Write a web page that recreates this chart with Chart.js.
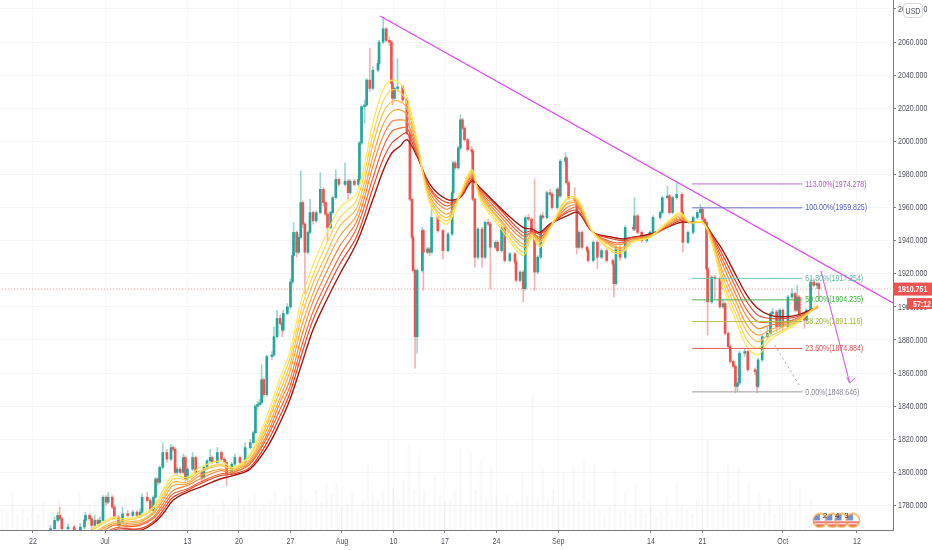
<!DOCTYPE html>
<html>
<head>
<meta charset="utf-8">
<title>Gold 4H</title>
<script src="https://cdn.jsdelivr.net/npm/chart.js@4"></script>
<style>
  html, body { margin: 0; padding: 0; background: #fff; }
  #wrap { width: 932px; height: 550px; position: relative; }
</style>
</head>
<body>
<div id="wrap"><canvas id="goldChart"></canvas></div>
<script>
// x = trading days counted from 22 Jun (weekends are not on the axis)
const xTickDays = [0, 7, 15, 20, 25, 30, 35, 40, 45, 51, 60, 65, 72.8, 80];
const xTickLabels = ['22', 'Jul', '13', '20', '27', 'Aug', '10', '17', '24', 'Sep', '14', '21', 'Oct', '12'];
const priceTicks = [1780, 1800, 1820, 1840, 1860, 1880, 1900, 1920, 1940, 1960, 1980, 2000, 2020, 2040, 2060, 2080];

const candleDays = [
  1.7,2.1,2.4,2.6,2.8,3.4,4.0,4.6,5.0,5.1,5.5,5.7,6.0,6.3,6.5,6.8,7.1,7.3,7.7,7.9,
  8.3,8.4,8.7,9.2,9.7,10.1,10.4,10.6,11.1,11.4,11.7,11.9,12.1,12.3,12.6,13.0,13.4,13.6,13.8,14.0,
  14.3,14.6,14.8,15.0,15.5,15.8,16.4,16.6,16.9,17.2,17.4,17.9,18.3,18.6,18.8,19.3,19.6,20.1,20.6,21.1,
  21.4,21.6,21.8,22.0,22.2,22.4,22.7,23.2,23.4,23.7,24.0,24.2,24.3,24.7,25.0,25.2,25.3,25.6,25.8,26.0,
  26.2,26.4,26.7,26.9,27.2,27.5,27.9,28.2,28.4,28.6,28.9,29.1,29.4,29.7,30.3,30.6,30.8,31.2,31.6,31.7,
  31.9,32.2,32.4,32.7,33.0,33.5,33.6,34.0,34.3,34.6,34.8,34.9,35.1,35.4,35.9,36.3,36.6,36.8,36.9,37.1,
  37.3,37.8,37.9,38.3,38.5,38.7,39.3,39.8,40.3,40.7,40.8,41.0,41.3,41.5,41.7,41.9,42.2,42.6,42.7,42.9,
  43.2,43.6,43.9,44.2,44.4,44.9,45.1,45.5,45.8,46.3,46.8,46.9,47.3,47.6,47.8,48.1,48.4,48.7,49.0,49.3,
  49.5,49.9,50.2,50.4,50.9,51.0,51.2,51.7,51.8,52.0,52.6,52.8,53.0,53.3,53.8,53.9,54.4,54.8,55.2,55.7,
  56.3,56.4,56.6,57.0,57.5,58.3,58.4,58.7,59.1,59.6,59.9,60.2,60.9,61.1,61.6,61.8,62.1,62.5,63.0,63.1,
  63.6,64.1,64.5,64.8,65.0,65.2,65.4,65.5,65.9,66.2,66.7,67.0,67.2,67.5,67.7,68.0,68.2,68.4,68.6,69.1,
  69.4,70.1,70.3,70.4,70.8,71.3,71.6,71.8,72.2,72.5,72.8,73.3,73.7,74.0,74.2,74.4,74.9,75.1,75.5,75.8,
  76.1,76.3
];
const candleOpen = [
  1762,1766,1771,1774,1772,1766,1767,1763,1767,1771,1774,1772,1768,1771,1769,1771,1785,1782,1785,1779,
  1773,1768,1770,1775,1774,1776,1774,1776,1785,1783,1777,1785,1796,1794,1803,1812,1808,1815,1814,1800,
  1802,1800,1809,1796,1802,1809,1800,1797,1803,1807,1809,1806,1812,1808,1806,1799,1805,1809,1806,1815,
  1818,1824,1840,1841,1842,1856,1847,1870,1871,1882,1893,1890,1886,1896,1900,1915,1931,1945,1933,1942,
  1963,1950,1933,1945,1957,1952,1957,1971,1963,1956,1948,1957,1966,1977,1974,1976,1969,1976,1974,1977,
  1999,2021,2022,2037,2032,2043,2047,2060,2068,2061,2060,2035,2026,2032,2033,2025,2005,1965,1942,1922,
  1882,1922,1946,1933,1935,1933,1954,1946,1934,1944,1969,1987,1984,1996,2013,2008,2001,1995,1994,1965,
  1930,1947,1930,1951,1950,1936,1939,1934,1948,1928,1932,1927,1916,1921,1911,1954,1953,1945,1921,1930,
  1955,1954,1969,1968,1960,1971,1967,1988,1990,1975,1966,1964,1936,1945,1936,1934,1928,1939,1930,1934,
  1928,1926,1914,1936,1930,1948,1947,1955,1945,1940,1943,1945,1954,1957,1966,1967,1957,1966,1968,1957,
  1939,1945,1954,1957,1959,1953,1951,1923,1903,1918,1917,1900,1902,1884,1876,1867,1864,1852,1854,1872,
  1873,1862,1861,1852,1868,1882,1884,1896,1897,1888,1898,1888,1906,1908,1898,1906,1896,1892,1898,1915,
  1913,1914
];
const candleHigh = [
  1768,1773,1776,1779,1773,1769,1768,1769,1772,1776,1775,1773,1774,1772,1773,1786,1786,1788,1786,1780,
  1774,1771,1779,1777,1777,1777,1778,1787,1788,1784,1786,1797,1797,1804,1818,1814,1817,1816,1815,1803,
  1803,1811,1810,1803,1812,1810,1801,1804,1808,1814,1810,1815,1813,1809,1807,1806,1811,1810,1818,1820,
  1825,1841,1843,1844,1865,1857,1871,1873,1888,1898,1895,1891,1898,1902,1917,1933,1951,1946,1944,1982,
  1964,1951,1946,1965,1958,1958,1981,1972,1964,1957,1958,1967,1983,1978,1987,1977,1977,1977,1979,2000,
  2022,2025,2038,2056,2045,2049,2061,2075,2069,2063,2061,2036,2033,2050,2034,2026,2006,1966,1943,1923,
  1923,1948,1947,1936,1936,1961,1955,1947,1945,1970,1988,1988,1997,2016,2014,2009,2002,1997,1995,1966,
  1948,1948,1952,1953,1951,1940,1940,1949,1949,1933,1933,1928,1922,1922,1955,1956,1954,1977,1931,1956,
  1957,1970,1971,1969,1972,1972,1989,1993,1991,1976,1972,1965,1946,1946,1937,1935,1940,1940,1935,1935,
  1929,1927,1937,1937,1949,1950,1966,1956,1946,1944,1946,1955,1958,1967,1973,1968,1967,1975,1969,1958,
  1946,1955,1958,1962,1960,1954,1952,1924,1919,1919,1918,1904,1903,1885,1877,1868,1865,1855,1873,1875,
  1874,1863,1862,1869,1883,1888,1897,1899,1898,1899,1899,1907,1911,1909,1913,1907,1897,1899,1917,1917,
  1915,1915
];
const candleLow = [
  1760,1765,1770,1771,1765,1762,1760,1762,1766,1770,1771,1765,1767,1768,1768,1770,1780,1781,1778,1772,
  1766,1767,1769,1773,1773,1773,1773,1775,1782,1776,1776,1784,1792,1793,1802,1806,1807,1813,1799,1798,
  1799,1799,1793,1795,1801,1799,1795,1796,1802,1806,1805,1805,1807,1805,1792,1798,1804,1805,1805,1814,
  1817,1823,1838,1840,1841,1845,1846,1868,1870,1881,1889,1882,1885,1895,1899,1914,1930,1930,1932,1941,
  1948,1908,1932,1944,1950,1951,1956,1961,1955,1940,1947,1956,1965,1973,1973,1965,1968,1973,1973,1976,
  1998,2011,2021,2030,2031,2042,2046,2059,2060,2058,2034,2022,2025,2030,2024,2004,1964,1941,1921,1863,
  1872,1921,1910,1932,1931,1932,1945,1929,1933,1943,1968,1983,1983,1995,2007,2000,1994,1993,1964,1924,
  1929,1924,1929,1949,1911,1935,1933,1933,1927,1927,1926,1915,1915,1903,1910,1952,1944,1910,1920,1929,
  1953,1953,1967,1959,1959,1966,1966,1986,1974,1965,1963,1932,1935,1935,1933,1927,1927,1923,1929,1927,
  1925,1906,1913,1928,1929,1946,1946,1944,1939,1939,1942,1944,1953,1956,1965,1956,1956,1965,1956,1933,
  1938,1944,1953,1956,1952,1950,1922,1883,1902,1905,1899,1899,1883,1875,1866,1863,1848,1849,1853,1870,
  1861,1859,1848,1851,1867,1881,1883,1895,1885,1887,1886,1887,1905,1897,1897,1895,1887,1891,1897,1912,
  1911,1906
];
const candleClose = [
  1766,1771,1774,1772,1766,1767,1763,1767,1771,1774,1772,1768,1771,1769,1771,1785,1782,1785,1779,1773,
  1768,1770,1775,1774,1776,1774,1776,1785,1783,1777,1785,1796,1794,1803,1812,1808,1815,1814,1800,1802,
  1800,1809,1796,1802,1809,1800,1797,1803,1807,1809,1806,1812,1808,1806,1799,1805,1809,1806,1815,1818,
  1824,1840,1841,1842,1856,1847,1870,1871,1882,1893,1890,1886,1896,1900,1915,1931,1945,1933,1942,1963,
  1950,1933,1945,1957,1952,1957,1971,1963,1956,1948,1957,1966,1977,1974,1976,1969,1976,1974,1977,1999,
  2021,2022,2037,2032,2043,2047,2060,2068,2061,2060,2035,2026,2032,2033,2025,2005,1965,1942,1922,1882,
  1922,1946,1933,1935,1933,1954,1946,1934,1944,1969,1987,1984,1996,2013,2008,2001,1995,1994,1965,1930,
  1947,1930,1951,1950,1936,1939,1934,1948,1928,1932,1927,1916,1921,1911,1954,1953,1945,1921,1930,1955,
  1954,1969,1968,1960,1971,1967,1988,1990,1975,1966,1964,1936,1945,1936,1934,1928,1939,1930,1934,1928,
  1926,1914,1936,1930,1948,1947,1955,1945,1940,1943,1945,1954,1957,1966,1967,1957,1966,1968,1957,1939,
  1945,1954,1957,1959,1953,1951,1923,1903,1918,1917,1900,1902,1884,1876,1867,1864,1852,1854,1872,1873,
  1862,1861,1852,1868,1882,1884,1896,1897,1888,1898,1888,1906,1908,1898,1906,1896,1892,1898,1915,1913,
  1914,1911
];

// volume, one reading every half trading day from day -3
const volumes = [
  20,18,37,15,22,12,24,16,28,14,22,30,22,14,20,38,18,25,28,16,30,22,26,18,32,20,15,28,34,20,
  26,30,18,35,24,30,20,27,32,18,26,22,15,30,20,28,32,24,30,35,20,25,30,38,26,32,35,28,57,30,
  25,40,28,45,35,48,24,25,38,20,30,67,35,30,40,90,42,30,50,85,40,75,40,25,55,35,28,30,40,82,
  25,78,40,70,30,62,35,30,35,25,28,57,35,135,30,62,30,40,25,57,30,62,28,70,30,65,20,15,24,60,
  18,38,16,45,22,16,24,14,18,32,12,47,24,20,16,30,22,90,25,57,25,65,28,62,24,47,20,37,18,32,
  16,24,18,50,20,42,14,30
];

const emaDays = [5.73,7.77,8.74,10.39,11.65,12.62,13.59,14.95,16.21,18.16,19.42,21.07,22.72,23.98,24.95,26.12,27.18,28.35,29.81,31.46,33.01,33.98,34.85,35.63,36.31,37.28,38.54,40.19,41.46,42.62,43.4,45.34,47.57,48.45,49.22,50.19,51.84,52.91,54.37,56.31,57.28,58.16,59.9,61.55,62.82,63.79,65.05,66.02,66.99,68.35,69.32,70.39,71.55,72.82,74.17,76.21];
const ema1 = [1766,1773,1772,1774,1779,1789,1798,1797,1803,1807,1803,1811,1834,1857,1873,1906,1925,1942,1960,1969,2011,2031,2037,2035,2027,2001,1962,1950,1968,1983,1965,1948,1931,1942,1936,1947,1966,1965,1945,1933,1933,1939,1942,1951,1957,1951,1951,1936,1912,1890,1876,1871,1880,1885,1890,1901];
const ema2 = [1765,1772,1771,1773,1778,1787,1796,1796,1801,1805,1802,1810,1831,1853,1869,1900,1919,1936,1954,1965,2004,2024,2031,2030,2023,2000,1964,1952,1968,1982,1966,1950,1933,1943,1937,1947,1965,1964,1945,1934,1934,1939,1942,1951,1956,1951,1951,1937,1915,1894,1880,1875,1882,1886,1891,1901];
const ema3 = [1763,1770,1770,1771,1776,1785,1794,1794,1800,1804,1802,1808,1829,1849,1865,1895,1914,1930,1949,1960,1998,2017,2024,2024,2020,1998,1965,1954,1967,1981,1967,1952,1936,1943,1939,1948,1963,1963,1945,1936,1935,1940,1942,1950,1955,1951,1951,1938,1918,1898,1885,1879,1884,1888,1891,1901];
const ema4 = [1762,1769,1769,1770,1775,1783,1792,1793,1798,1802,1801,1807,1826,1845,1861,1889,1908,1925,1943,1956,1991,2010,2018,2019,2016,1997,1967,1956,1967,1980,1968,1953,1938,1944,1940,1948,1962,1962,1945,1937,1936,1940,1943,1950,1954,1951,1951,1939,1921,1902,1889,1883,1886,1889,1892,1901];
const ema5 = [1760,1768,1768,1769,1773,1781,1789,1792,1796,1801,1800,1806,1823,1842,1856,1883,1903,1919,1937,1952,1985,2003,2012,2013,2012,1995,1969,1959,1967,1979,1969,1955,1941,1945,1941,1948,1960,1961,1945,1938,1938,1941,1943,1949,1953,1951,1951,1940,1925,1906,1894,1887,1889,1890,1893,1900];
const ema6 = [1759,1766,1767,1768,1772,1779,1787,1790,1794,1799,1800,1805,1821,1838,1852,1877,1897,1913,1931,1948,1978,1996,2006,2008,2008,1994,1971,1961,1967,1978,1970,1957,1943,1945,1942,1949,1958,1960,1945,1939,1939,1941,1943,1949,1953,1951,1951,1941,1928,1910,1898,1891,1891,1891,1893,1900];
const ema7 = [1757,1765,1766,1766,1770,1777,1785,1789,1793,1798,1799,1803,1818,1834,1848,1872,1892,1908,1926,1943,1972,1989,1999,2003,2005,1992,1972,1963,1966,1977,1971,1959,1945,1946,1944,1949,1957,1958,1945,1941,1940,1942,1943,1948,1952,1951,1951,1942,1931,1914,1903,1895,1893,1893,1894,1900];
const ema8 = [1756,1763,1765,1765,1769,1775,1783,1788,1791,1796,1798,1802,1815,1830,1844,1866,1886,1902,1920,1939,1965,1982,1993,1997,2001,1991,1974,1965,1966,1976,1972,1960,1948,1947,1945,1950,1955,1957,1945,1942,1941,1942,1944,1948,1951,1951,1951,1943,1934,1918,1907,1899,1895,1894,1895,1900];

const fibPrices = [1974.278, 1959.825, 1917.254, 1904.235, 1891.116, 1874.884, 1848.646];
const fibLabels = ['113.00%(1974.278)', '100.00%(1959.825)', '61.80%(1917.254)', '50.00%(1904.235)', '38.20%(1891.116)', '23.60%(1874.884)', '0.00%(1848.646)'];
const fibStartDay = 64.0;
const fibEndDay = 74.7;

const trendDays = [33.7, 83.5];
const trendPrices = [2075.7, 1902.4];
const arrowDays = [76.5, 79.3];
const arrowPrices = [1921.7, 1854];
const arrowHeadDays = [79.0, 79.3, 79.8];
const arrowHeadPrices = [1857.5, 1854, 1857];
const dashDays = [72.0, 74.5];
const dashPrices = [1877, 1851.6];

const lastPrice = 1910.751;
const countdown = '57:12';
const flagDays = [76.4, 77.6, 78.5, 79.6];
const flagPrice = 1771;
const flagCounts = ['2', '4', '3', ''];

// colours
const UP = '#26a69a', DOWN = '#ef5350';
const emaColors = ['#fde74c', '#fdd34a', '#fcbc45', '#fba23f', '#f8843a', '#f26335', '#e2402b', '#a3170f'];
const fibColors = ['#b56cc9', '#6a70c8', '#6fc9b3', '#4caf50', '#b4c24a', '#e8605c', '#9a9a9a'];
const fibTextColors = ['#a661bd', '#5a62bd', '#5fb8a4', '#38b33c', '#a5b53a', '#d9534f', '#8a8d94'];
const FONT = '"Liberation Sans", Arial, sans-serif';
const SQUEEZE = 0.74; // le texte de la capture est tassé en largeur

// fillText tassé horizontalement
function squeezedText(ctx, text, px, py) {
  ctx.save();
  ctx.translate(px, py);
  ctx.scale(SQUEEZE, 1);
  ctx.fillText(text, 0, 0);
  ctx.restore();
}

// petit drapeau US pour les événements éco
function makeFlag() {
  const c = document.createElement('canvas');
  c.width = 16; c.height = 16;
  const g = c.getContext('2d');
  g.save();
  g.beginPath(); g.arc(8, 8, 6.5, 0, Math.PI * 2); g.clip();
  g.fillStyle = '#fff'; g.fillRect(0, 0, 16, 16);
  g.fillStyle = '#e8564f';
  g.fillRect(0, 9, 16, 1.6); g.fillRect(0, 12, 16, 1.8);
  g.fillStyle = '#6a8fe0'; g.fillRect(0, 0, 8, 8);
  g.restore();
  g.strokeStyle = '#f6a94a'; g.lineWidth = 1.4;
  g.beginPath(); g.arc(8, 8, 6.7, 0, Math.PI * 2); g.stroke();
  return c;
}

function lineSet(days, prices, color, extra) {
  return Object.assign({
    type: 'line',
    data: days.map((d, i) => ({ x: d, y: prices[i] })),
    borderColor: color,
    borderWidth: 1,
    pointRadius: 0,
    fill: false,
    tension: 0,
    order: 1
  }, extra || {});
}

const datasets = [];

// volume, tout au fond
datasets.push({
  type: 'bar',
  yAxisID: 'v',
  stack: 'all',
  data: volumes.map((v, i) => ({ x: -3 + i * 0.5, y: v })),
  backgroundColor: 'rgba(120,140,130,0.055)',
  barThickness: 2,
  order: 9
});

// mèches puis corps des bougies
datasets.push({
  type: 'bar',
  stack: 'all',
  data: candleDays.map((d, i) => ({ x: d, y: [candleLow[i], candleHigh[i]] })),
  backgroundColor: candleDays.map((d, i) => candleClose[i] >= candleOpen[i] ? 'rgba(38,166,154,0.45)' : 'rgba(239,83,80,0.45)'),
  barThickness: 1,
  order: 8
});
datasets.push({
  type: 'bar',
  stack: 'all',
  data: candleDays.map((d, i) => ({ x: d, y: [candleOpen[i], candleClose[i]] })),
  backgroundColor: candleDays.map((d, i) => candleClose[i] >= candleOpen[i] ? UP : DOWN),
  barThickness: 2,
  order: 7
});

[ema8, ema7, ema6, ema5, ema4, ema3, ema2, ema1].forEach((s, i) => {
  datasets.push(lineSet(emaDays, s, emaColors[7 - i], { tension: 0.35, order: 6 - i * 0.1, borderWidth: i === 0 ? 1.4 : 1.15 }));
});

fibPrices.forEach((p, i) => {
  datasets.push(lineSet([fibStartDay, fibEndDay], [p, p], fibColors[i]));
});
datasets.push(lineSet([-3.3, 83.6], [lastPrice, lastPrice], 'rgba(239,83,80,0.6)', { borderDash: [1, 2] }));
datasets.push(lineSet(trendDays, trendPrices, '#e040fb', { borderWidth: 1.1 }));
datasets.push(lineSet(arrowDays, arrowPrices, '#d65cf0', { borderWidth: 1.1 }));
datasets.push(lineSet(arrowHeadDays, arrowHeadPrices, '#d65cf0'));
datasets.push(lineSet(dashDays, dashPrices, '#a0a0a0', { borderDash: [2, 3] }));

const flagImg = makeFlag();
datasets.push({
  type: 'line',
  showLine: false,
  data: flagDays.map(d => ({ x: d, y: flagPrice })),
  pointStyle: flagImg,
  pointRadius: 8,
  order: 0
});

// labels d'axes, niveaux fibo, prix courant, compte à rebours, bouton USD
const overlayPlugin = {
  id: 'overlay',
  afterDraw(chart) {
    const { ctx, scales: { x, y }, chartArea: area } = chart;
    ctx.save();
    ctx.textBaseline = 'middle';

    // labels des axes, à partir des ticks calculés par Chart.js
    ctx.font = '9.5px ' + FONT;
    ctx.fillStyle = '#50535e';
    ctx.textAlign = 'left';
    y.ticks.forEach((t, i) => squeezedText(ctx, t.label, area.right + 5, y.getPixelForTick(i)));
    ctx.textAlign = 'center';
    x.ticks.forEach((t, i) => squeezedText(ctx, t.label, x.getPixelForTick(i), area.bottom + 11));

    ctx.textAlign = 'left';
    fibLabels.forEach((t, i) => {
      ctx.fillStyle = fibTextColors[i];
      squeezedText(ctx, t, x.getPixelForValue(fibEndDay) + 3, y.getPixelForValue(fibPrices[i]));
    });
    ctx.fillStyle = '#333';
    ctx.font = '8px ' + FONT;
    ctx.textAlign = 'center';
    flagCounts.forEach((t, i) => {
      if (t) ctx.fillText(t, x.getPixelForValue(flagDays[i]) + 5, y.getPixelForValue(flagPrice) - 5);
    });

    const py = y.getPixelForValue(lastPrice);
    ctx.fillStyle = '#ef5350';
    ctx.fillRect(area.right, py - 6.5, chart.width - area.right, 13);
    ctx.fillRect(area.right + 14, py + 9, chart.width - area.right - 14, 11);
    ctx.fillStyle = '#fff';
    ctx.font = 'bold 9.5px ' + FONT;
    ctx.textAlign = 'left';
    squeezedText(ctx, lastPrice.toFixed(3), area.right + 5, py + 0.5);
    squeezedText(ctx, countdown, area.right + 20, py + 15);

    ctx.fillStyle = 'rgba(255,255,255,0.95)';
    ctx.strokeStyle = '#d6d8de';
    ctx.lineWidth = 1;
    ctx.beginPath();
    ctx.roundRect(903.5, 3.5, 19, 14, 3);
    ctx.fill();
    ctx.stroke();
    ctx.fillStyle = '#50535e';
    ctx.font = '9.5px ' + FONT;
    ctx.textAlign = 'center';
    squeezedText(ctx, 'USD', 913, 11);
    ctx.restore();
  }
};

new Chart(document.getElementById('goldChart'), {
  type: 'bar',
  data: { datasets },
  plugins: [overlayPlugin],
  options: {
    responsive: true,
    maintainAspectRatio: false,
    animation: false,
    layout: { padding: 0, autoPadding: false },
    plugins: { legend: { display: false }, tooltip: { enabled: false } },
    scales: {
      x: {
        type: 'linear',
        offset: false,
        min: -3.2,
        max: 83.5,
        grid: { offset: false, color: '#f6f7f8', tickColor: '#787b86', tickLength: 3 },
        border: { color: '#787b86' },
        afterBuildTicks(axis) { axis.ticks = xTickDays.map(v => ({ value: v })); },
        afterFit(axis) { axis.height = 20; axis.paddingLeft = 0; axis.paddingRight = 0; },
        ticks: {
          display: false,
          autoSkip: false,
          maxRotation: 0,
          callback(v) { return xTickLabels[xTickDays.indexOf(v)]; }
        }
      },
      y: {
        position: 'right',
        stacked: false,
        min: 1765.2,
        max: 2085.4,
        grid: { color: '#f4f5f6', tickColor: '#787b86', tickLength: 3 },
        border: { color: '#787b86' },
        afterBuildTicks(axis) { axis.ticks = priceTicks.map(v => ({ value: v })); },
        afterFit(axis) { axis.width = 39; axis.paddingTop = 0; axis.paddingBottom = 0; },
        ticks: {
          display: false,
          callback(v) { return v.toFixed(3); }
        }
      },
      v: {
        display: false,
        stacked: false,
        min: 0,
        max: 530
      }
    }
  }
});
</script>
</body>
</html>
